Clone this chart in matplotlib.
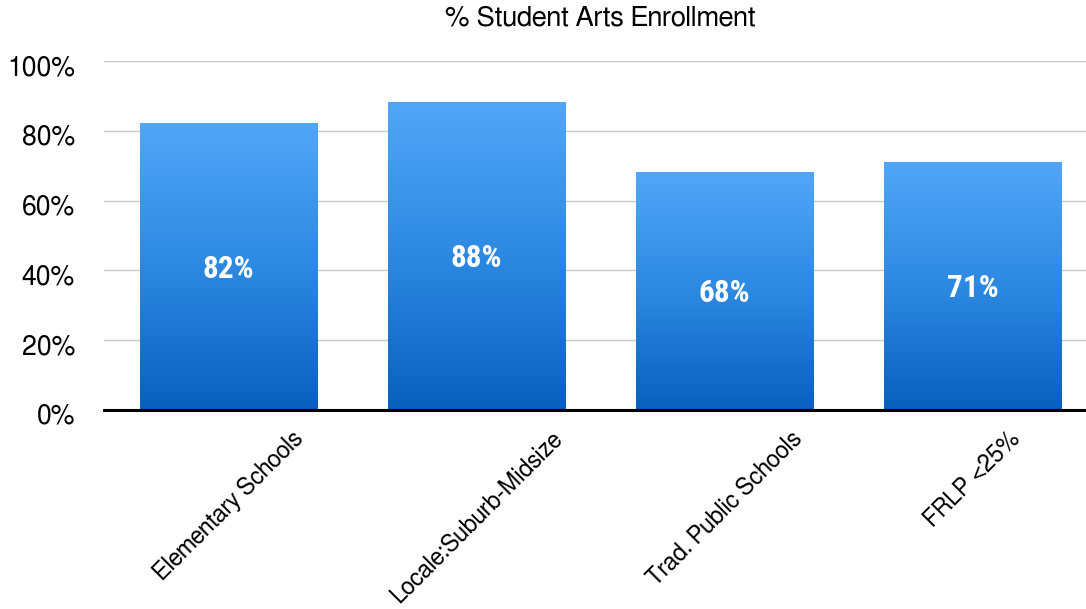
import matplotlib
matplotlib.use("Agg")
import matplotlib.pyplot as plt
import matplotlib.transforms as mtransforms
from matplotlib import font_manager
from matplotlib.colors import LinearSegmentedColormap
import numpy as np

categories = ["Elementary Schools", "Locale:Suburb-Midsize", "Trad. Public Schools", "FRLP <25%"]
values = [82, 88, 68, 71]
value_labels = ["82%", "88%", "68%", "71%"]
yticks = [0, 20, 40, 60, 80, 100]
ytick_labels = ["0%", "20%", "40%", "60%", "80%", "100%"]
title = "% Student Arts Enrollment"

names = {f.name for f in font_manager.fontManager.ttflist}
def pick(*cands):
    for c in cands:
        if c in names:
            return c
    return "DejaVu Sans"
base_font = pick("FreeSans", "Liberation Sans")
bold_font = pick("Roboto Condensed", "Liberation Sans")
plt.rcParams["font.family"] = [base_font, "DejaVu Sans"]

W, H = 1086, 609
fig = plt.figure(figsize=(W / 100, H / 100), dpi=100)
ax = fig.add_axes([104 / W, (H - 410) / H, (W - 104) / W, 349 / H])

cmap = LinearSegmentedColormap.from_list("bar", ["#0a5fbf", "#2c89e1", "#52a6f8"])
grad = np.linspace(0, 1, 256).reshape(-1, 1)
bw = 0.714
x = np.arange(len(categories))
for xi, v, lab in zip(x, values, value_labels):
    ax.imshow(grad, extent=[xi - bw / 2, xi + bw / 2, 0, v], origin="lower",
              aspect="auto", cmap=cmap, zorder=2, interpolation="bilinear")
    ax.text(xi, v / 2 - 0.5, lab, ha="center", va="center", color="white",
            fontsize=22.5, fontweight="bold", family=[bold_font, "DejaVu Sans"],
            zorder=3)

ax.set_xlim(-0.502, 3.458)
ax.set_ylim(0, 100)
ax.set_yticks(yticks)
ax.set_yticklabels(ytick_labels, fontsize=19.2)
ax.set_xticks(x)
ax.set_xticklabels(categories, fontsize=16.8, rotation=45, ha="center", va="top")
ax.tick_params(axis="both", length=0)
ax.tick_params(axis="y", pad=21)
ax.tick_params(axis="x", pad=12)
ax.grid(axis="y", color="#c8c8c8", linewidth=1.0, zorder=0)
ax.set_axisbelow(True)
for s in ["top", "right", "left"]:
    ax.spines[s].set_visible(False)
ax.spines["bottom"].set_linewidth(2.2)
ax.spines["bottom"].set_color("black")
ax.spines["bottom"].set_zorder(4)

off = mtransforms.ScaledTranslation(0, -4 / 100, fig.dpi_scale_trans)
for t in ax.get_yticklabels():
    t.set_transform(t.get_transform() + off)

fig.text(600 / W, 1 - 6 / H, title, ha="center", va="top", fontsize=19.8)

fig.savefig("out.png", dpi=100)
